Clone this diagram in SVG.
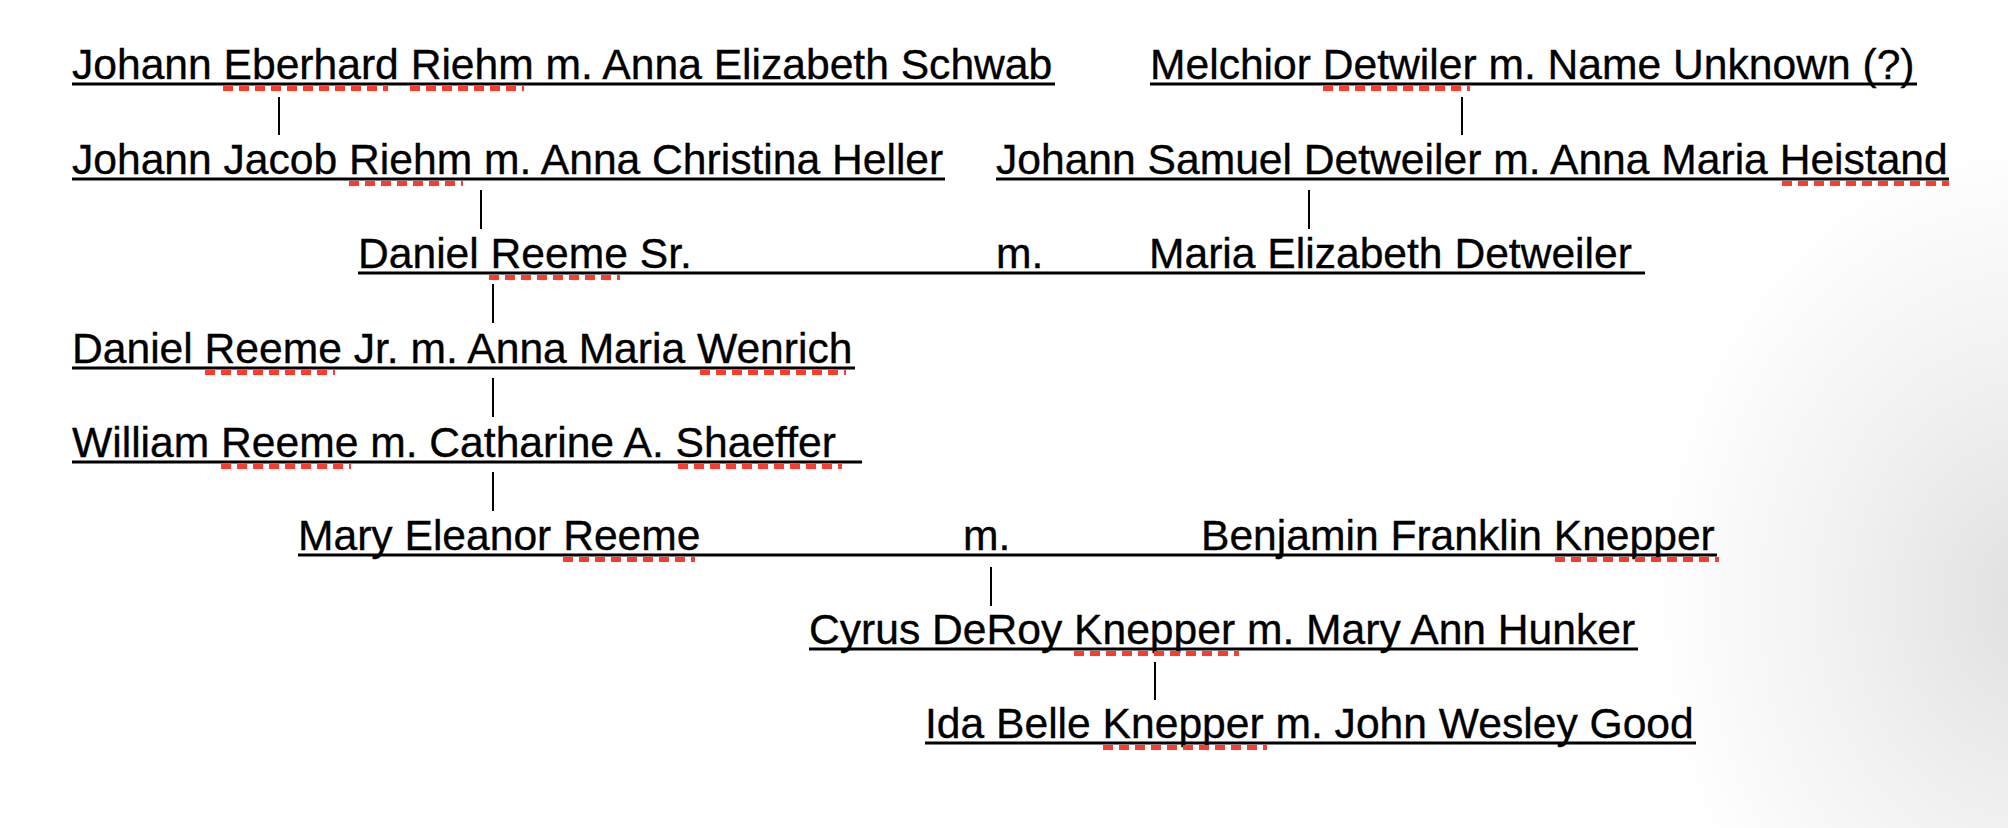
<svg xmlns="http://www.w3.org/2000/svg" width="2008" height="828" viewBox="0 0 2008 828">
<style>
.t{font-family:"Liberation Sans",Arial,sans-serif;font-size:42.6px;fill:#000;stroke:#000;stroke-width:0.35}
.u{stroke:#000;stroke-width:3}
.sp{stroke:#ff3b30;stroke-width:5;stroke-dasharray:10 6}
.c{stroke:#000;stroke-width:2}
</style>
<defs>
<radialGradient id="shade" cx="2030" cy="600" r="420" gradientUnits="userSpaceOnUse" gradientTransform="translate(2030 600) scale(0.9 1.1) translate(-2030 -600)">
<stop offset="0" stop-color="#e0e0e0"/>
<stop offset="0.5" stop-color="#f1f1f1"/>
<stop offset="1" stop-color="#ffffff"/>
</radialGradient>
</defs>
<rect width="2008" height="828" fill="#fff"/>
<rect width="2008" height="828" fill="url(#shade)"/>

<g id="connectors">
<line class="c" x1="279" y1="97" x2="279" y2="135"/>
<line class="c" x1="1462" y1="97" x2="1462" y2="135"/>
<line class="c" x1="481" y1="190" x2="481" y2="229"/>
<line class="c" x1="1309" y1="190" x2="1309" y2="229"/>
<line class="c" x1="493" y1="284" x2="493" y2="323"/>
<line class="c" x1="493" y1="378" x2="493" y2="417"/>
<line class="c" x1="493" y1="472" x2="493" y2="511"/>
<line class="c" x1="991" y1="567" x2="991" y2="606"/>
<line class="c" x1="1155" y1="662" x2="1155" y2="700"/>
</g>

<g id="n-riehm-schwab">
<text class="t" x="72" y="78.5">Johann Eberhard Riehm m. Anna Elizabeth Schwab</text>
<line class="u" x1="72" y1="84" x2="1055" y2="84"/>
<line class="sp" x1="223" y1="88.5" x2="388" y2="88.5"/>
<line class="sp" x1="410" y1="88.5" x2="524" y2="88.5"/>
</g>

<g id="n-melchior">
<text class="t" x="1150" y="78.5">Melchior Detwiler m. Name Unknown (?)</text>
<line class="u" x1="1150" y1="84" x2="1917" y2="84"/>
<line class="sp" x1="1323" y1="88.5" x2="1470" y2="88.5"/>
</g>

<g id="n-jacob-riehm">
<text class="t" x="72" y="173.5">Johann Jacob Riehm m. Anna Christina Heller</text>
<line class="u" x1="72" y1="179" x2="945" y2="179"/>
<line class="sp" x1="349" y1="183.5" x2="463" y2="183.5"/>
</g>

<g id="n-samuel-detweiler">
<text class="t" x="996" y="173.5">Johann Samuel Detweiler m. Anna Maria Heistand</text>
<line class="u" x1="996" y1="179" x2="1949" y2="179"/>
<line class="sp" x1="1782" y1="183.5" x2="1949" y2="183.5"/>
</g>

<g id="n-daniel-sr">
<text class="t" x="358" y="267.5">Daniel Reeme Sr.</text>
<text class="t" x="996" y="267.5">m.</text>
<text class="t" x="1149" y="267.5">Maria Elizabeth Detweiler</text>
<line class="u" x1="358" y1="273" x2="1645" y2="273"/>
<line class="sp" x1="489" y1="277.5" x2="620" y2="277.5"/>
</g>

<g id="n-daniel-jr">
<text class="t" x="72" y="362.5">Daniel Reeme Jr. m. Anna Maria Wenrich</text>
<line class="u" x1="72" y1="368" x2="855" y2="368"/>
<line class="sp" x1="205" y1="372.5" x2="335" y2="372.5"/>
<line class="sp" x1="700" y1="372.5" x2="846" y2="372.5"/>
</g>

<g id="n-william">
<text class="t" x="72" y="456.5">William Reeme m. Catharine A. Shaeffer</text>
<line class="u" x1="72" y1="462" x2="862" y2="462"/>
<line class="sp" x1="221" y1="466.5" x2="351" y2="466.5"/>
<line class="sp" x1="678" y1="466.5" x2="842" y2="466.5"/>
</g>

<g id="n-mary-eleanor">
<text class="t" x="298" y="549.5">Mary Eleanor Reeme</text>
<text class="t" x="963" y="549.5">m.</text>
<text class="t" x="1201" y="549.5">Benjamin Franklin Knepper</text>
<line class="u" x1="298" y1="555" x2="1717" y2="555"/>
<line class="sp" x1="563" y1="559.5" x2="695" y2="559.5"/>
<line class="sp" x1="1555" y1="559.5" x2="1719" y2="559.5"/>
</g>

<g id="n-cyrus">
<text class="t" x="809" y="643.5">Cyrus DeRoy Knepper m. Mary Ann Hunker</text>
<line class="u" x1="809" y1="649" x2="1638" y2="649"/>
<line class="sp" x1="1074" y1="653.5" x2="1239" y2="653.5"/>
</g>

<g id="n-ida">
<text class="t" x="925" y="737.5">Ida Belle Knepper m. John Wesley Good</text>
<line class="u" x1="925" y1="743" x2="1696" y2="743"/>
<line class="sp" x1="1103" y1="747.5" x2="1267" y2="747.5"/>
</g>
</svg>
